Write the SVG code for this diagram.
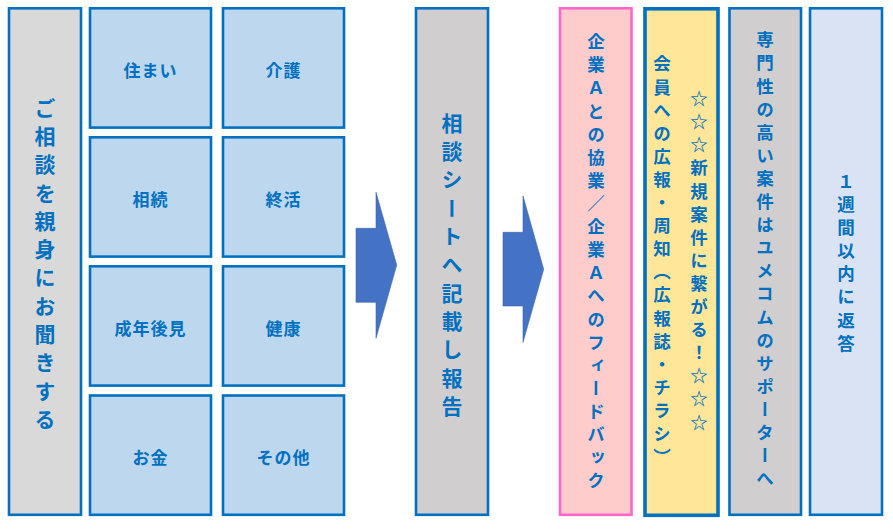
<svg xmlns="http://www.w3.org/2000/svg" width="893" height="529" viewBox="0 0 893 529">
<defs>
<style>
.box{stroke:#0070C0;stroke-width:2.6}
.gray1{fill:#D9D9D9}
.gray2{fill:#D0CECE}
.blue{fill:#BDD7EE}
.pink{fill:#FFCCCC;stroke:#FF66CC;stroke-width:2.6}
.yellow{fill:#FFE699;stroke:#0070C0;stroke-width:3.6}
.light{fill:#DAE3F3}
text{font-family:"Noto Sans CJK JP","Noto Sans",sans-serif;font-weight:bold;fill:#0070C0}
.h{font-size:17px;text-anchor:middle;dominant-baseline:central;letter-spacing:1px}
.vl{font-size:21px;writing-mode:vertical-rl;text-anchor:middle;letter-spacing:7.3px}
.vs{font-size:17.5px;writing-mode:vertical-rl;text-anchor:middle;letter-spacing:5.6px}
.arrow{fill:#4472C4;stroke:#3B64AD;stroke-width:0.6}
</style>
</defs>
<rect width="893" height="529" fill="#FFFFFF"/>
<g id="node-listen">
<rect class="box gray1" x="9" y="8.3" width="72" height="506.5"/>
<text class="vl" x="45" y="267">ご相談を親身にお聞きする</text>
</g>
<g id="node-sumai"><rect class="box blue" x="90" y="8.3" width="121" height="119.3"/><text class="h" x="150.5" y="69">住まい</text></g>
<g id="node-kaigo"><rect class="box blue" x="223" y="8.3" width="121" height="119.3"/><text class="h" x="283.5" y="69">介護</text></g>
<g id="node-souzoku"><rect class="box blue" x="90" y="137.3" width="121" height="119.3"/><text class="h" x="150.5" y="198">相続</text></g>
<g id="node-shukatsu"><rect class="box blue" x="223" y="137.3" width="121" height="119.3"/><text class="h" x="283.5" y="198">終活</text></g>
<g id="node-kouken"><rect class="box blue" x="90" y="266.3" width="121" height="119.3"/><text class="h" x="150.5" y="327">成年後見</text></g>
<g id="node-kenkou"><rect class="box blue" x="223" y="266.3" width="121" height="119.3"/><text class="h" x="283.5" y="327">健康</text></g>
<g id="node-okane"><rect class="box blue" x="90" y="395.5" width="121" height="119.3"/><text class="h" x="150.5" y="456">お金</text></g>
<g id="node-sonota"><rect class="box blue" x="223" y="395.5" width="121" height="119.3"/><text class="h" x="283.5" y="456">その他</text></g>
<g id="node-sheet">
<rect class="box gray2" x="416" y="8.3" width="72" height="506.5"/>
<text class="vl" x="452" y="268">相談シートへ記載し報告</text>
</g>
<g id="node-kigyoA">
<rect class="pink" x="560" y="8.3" width="71.5" height="506.5"/>
<text class="vs" x="596" y="264">企業Ａとの協業／企業Ａへのフィードバック</text>
</g>
<g id="node-kouhou">
<rect class="yellow" x="645" y="8.8" width="73" height="506.5"/>
<text class="vs" x="699" y="263">☆☆☆新規案件に繋がる！☆☆☆</text>
<text class="vs" x="662" y="263">会員への広報・周知（広報誌・チラシ）</text>
</g>
<g id="node-supporter">
<rect class="box gray2" x="729.5" y="8.3" width="71.5" height="506.5"/>
<text class="vs" x="765" y="262">専門性の高い案件はユメコムのサポーターへ</text>
</g>
<g id="node-reply">
<rect class="box light" x="810" y="8.3" width="72" height="506.5"/>
<text class="vs" x="846" y="265">１週間以内に返答</text>
</g>
<g id="connectors">
<path class="arrow" d="M356,228.3 H376 V192.3 L396.7,265 L376,338.3 V302.3 H356 Z"/>
<path class="arrow" d="M503,232.3 H523 V196 L543.7,269.3 L523,342.3 V306 H503 Z"/>
</g>
</svg>
